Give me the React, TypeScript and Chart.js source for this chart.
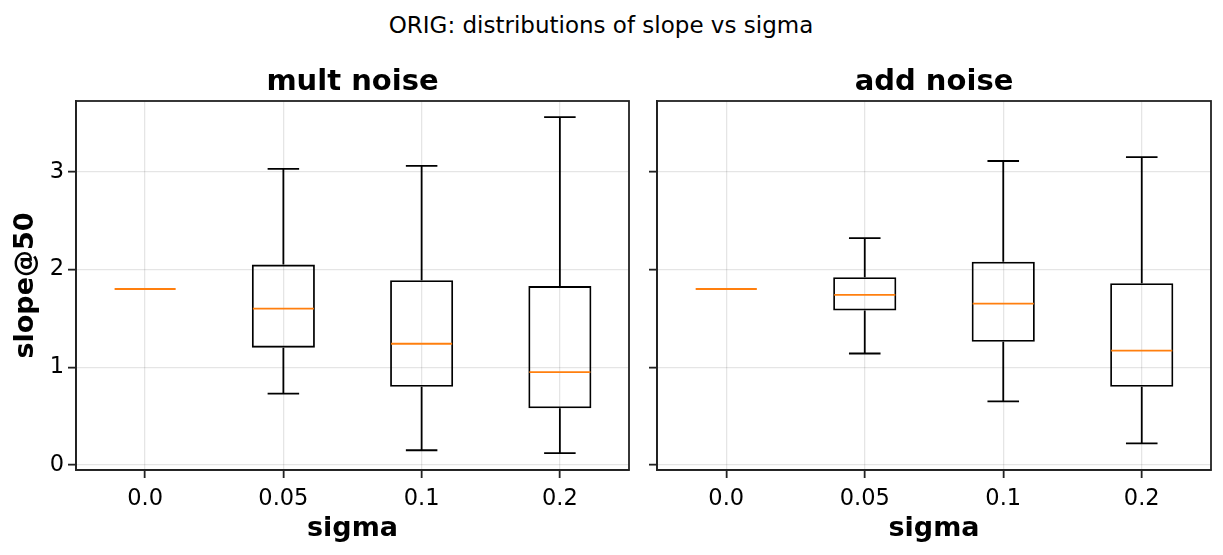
import { useEffect, useRef } from "react"
import { Chart, registerables } from "chart.js"

Chart.register(...registerables)

// categorías (sigma)
const sigmaLabels = ["0.0", "0.05", "0.1", "0.2"]

// mult noise: estadísticos de cada caja
const multMin = [1.8, 0.73, 0.15, 0.12]
const multQ1 = [1.8, 1.2, 0.8, 0.58]
const multMed = [1.8, 1.6, 1.24, 0.95]
const multQ3 = [1.8, 2.05, 1.89, 1.83]
const multMax = [1.8, 3.03, 3.06, 3.56]

// add noise
const addMin = [1.8, 1.14, 0.65, 0.22]
const addQ1 = [1.8, 1.58, 1.26, 0.8]
const addMed = [1.8, 1.74, 1.65, 1.17]
const addQ3 = [1.8, 1.92, 2.08, 1.86]
const addMax = [1.8, 2.32, 3.11, 3.15]

const yMin = -0.052
const yMax = 3.724

const FONT = "'DejaVu Sans', sans-serif"
const GRID = "rgba(0,0,0,0.1)"
const SPINE = "#222"

interface BoxStats {
    min: number[]
    q1: number[]
    med: number[]
    q3: number[]
    max: number[]
}

// Bigotes, medianas y marco
const boxPlugin = {
    id: "boxWhiskers",
    afterDatasetsDraw(chart: any, _args: any, opts: any) {
        const stats: BoxStats = opts.stats
        if (!stats) return
        const { ctx, chartArea } = chart
        const y = chart.scales.y
        const meta = chart.getDatasetMeta(0)
        ctx.save()
        meta.data.forEach((el: any, i: number) => {
            const x = el.x
            const half = el.width / 2
            const cap = half / 2
            const pMin = y.getPixelForValue(stats.min[i])
            const pQ1 = y.getPixelForValue(stats.q1[i])
            const pQ3 = y.getPixelForValue(stats.q3[i])
            const pMax = y.getPixelForValue(stats.max[i])
            const pMed = y.getPixelForValue(stats.med[i])
            ctx.strokeStyle = "#000"
            ctx.lineWidth = 1.8
            ctx.beginPath()
            ctx.moveTo(x, pQ3)
            ctx.lineTo(x, pMax)
            ctx.moveTo(x, pQ1)
            ctx.lineTo(x, pMin)
            ctx.moveTo(x - cap, pMax)
            ctx.lineTo(x + cap, pMax)
            ctx.moveTo(x - cap, pMin)
            ctx.lineTo(x + cap, pMin)
            ctx.stroke()
            ctx.strokeStyle = "#ff7f0e"
            ctx.beginPath()
            ctx.moveTo(x - half + 1, pMed)
            ctx.lineTo(x + half - 1, pMed)
            ctx.stroke()
        })
        ctx.strokeStyle = SPINE
        ctx.lineWidth = 1.8
        ctx.strokeRect(chartArea.left, chartArea.top, chartArea.right - chartArea.left, chartArea.bottom - chartArea.top)
        ctx.restore()
    },
}

interface PanelProps {
    title: string
    stats: BoxStats
    showYLabels: boolean
    left: number
    width: number
    yWidth: number
    padRight: number
}

function BoxPanel({ title, stats, showYLabels, left, width, yWidth, padRight }: PanelProps) {
    const chartRef = useRef<HTMLCanvasElement>(null)
    const chartInstance = useRef<Chart | null>(null)

    useEffect(() => {
        if (!chartRef.current) return
        if (chartInstance.current) chartInstance.current.destroy()
        const ctx = chartRef.current.getContext("2d")
        if (!ctx) return

        chartInstance.current = new Chart(ctx, {
            type: "bar",
            data: {
                labels: sigmaLabels,
                datasets: [
                    {
                        data: stats.q1.map((q, i) => [q, stats.q3[i]]) as any,
                        backgroundColor: "rgba(255,255,255,0)",
                        borderColor: "#000",
                        borderWidth: 1.8,
                        borderSkipped: false,
                        barPercentage: 0.456,
                        categoryPercentage: 1,
                    },
                ],
            },
            plugins: [boxPlugin],
            options: {
                animation: false,
                responsive: true,
                maintainAspectRatio: false,
                layout: { padding: { top: 0, left: 0, right: padRight, bottom: 0 } },
                plugins: {
                    legend: { display: false },
                    tooltip: { enabled: false },
                    title: {
                        display: true,
                        text: title,
                        fullSize: false,
                        color: "#000",
                        font: { family: FONT, size: 29, weight: "bold" },
                        padding: { top: 65, bottom: 1.2 },
                    },
                    boxWhiskers: { stats },
                } as any,
                scales: {
                    x: {
                        offset: true,
                        grid: {
                            offset: false,
                            color: GRID,
                            lineWidth: 1.3,
                            tickColor: SPINE,
                            tickLength: 8,
                            tickWidth: 1.8,
                        },
                        border: { color: SPINE, width: 1.8 },
                        ticks: { color: "#000", font: { family: FONT, size: 22.5 }, padding: 8, maxRotation: 0 },
                        title: {
                            display: true,
                            text: "sigma",
                            color: "#000",
                            font: { family: FONT, size: 27, weight: "bold" },
                            padding: { top: 0, bottom: 9.8 },
                        },
                        afterFit: (s: any) => {
                            s.height = 85
                        },
                    },
                    y: {
                        min: yMin,
                        max: yMax,
                        grid: {
                            color: GRID,
                            lineWidth: 1.3,
                            tickColor: SPINE,
                            tickLength: 8,
                            tickWidth: 1.8,
                        },
                        border: { color: SPINE, width: 1.8 },
                        ticks: {
                            display: showYLabels,
                            stepSize: 1,
                            includeBounds: false,
                            color: "#000",
                            font: { family: FONT, size: 22.5 },
                            padding: 4,
                        },
                        title: {
                            display: showYLabels,
                            text: "slope@50",
                            color: "#000",
                            font: { family: FONT, size: 27, weight: "bold" },
                            padding: { top: 9.8, bottom: 0 },
                        },
                        afterFit: (s: any) => {
                            s.width = yWidth
                        },
                    },
                } as any,
            },
        })

        return () => {
            if (chartInstance.current) chartInstance.current.destroy()
            chartInstance.current = null
        }
    }, [title, stats, showYLabels, yWidth, padRight])

    return (
        <div style={{ position: "absolute", left, top: 0, width, height: 555 }}>
            <canvas ref={chartRef} />
        </div>
    )
}

const multStats: BoxStats = { min: multMin, q1: multQ1, med: multMed, q3: multQ3, max: multMax }
const addStats: BoxStats = { min: addMin, q1: addQ1, med: addMed, q3: addQ3, max: addMax }

export default function App() {
    return (
        <div style={{ position: "absolute", left: 0, top: 0, width: 1223, height: 555, background: "#fff", overflow: "hidden" }}>
            <div
                style={{
                    position: "absolute",
                    left: 0,
                    top: 13.5,
                    width: 1202,
                    textAlign: "center",
                    fontFamily: FONT,
                    fontSize: 23,
                    lineHeight: "23px",
                    color: "#000",
                }}
            >
                ORIG: distributions of slope vs sigma
            </div>
            <BoxPanel title="mult noise" stats={multStats} showYLabels={true} left={0} width={635} yWidth={76} padRight={6} />
            <BoxPanel title="add noise" stats={addStats} showYLabels={false} left={635} width={588} yWidth={22} padRight={12} />
        </div>
    )
}
